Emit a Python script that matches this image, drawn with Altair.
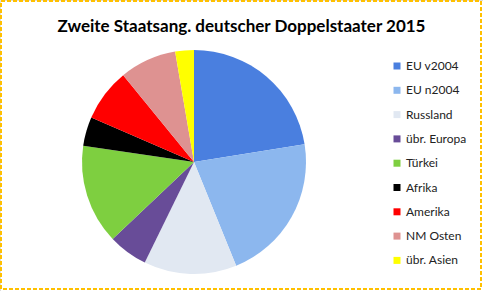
import altair as alt
import pandas as pd

categories = ["EU v2004", "EU n2004", "Russland", "übr. Europa", "Türkei",
              "Afrika", "Amerika", "NM Osten", "übr. Asien"]
values = [22.5, 21.4, 13.4, 5.7, 14.4, 4.2, 7.6, 8.2, 2.7]
colors = ["#4A7FDF", "#8CB7EE", "#E1E8F2", "#684C98", "#7ECF40",
          "#000000", "#FF0000", "#DE9291", "#FFFF00"]

df = pd.DataFrame({"Region": categories, "Anteil": values,
                   "idx": list(range(len(categories)))})

pie = alt.Chart(df).mark_arc(radius=112, stroke=None).encode(
    x=alt.value(194),
    y=alt.value(162),
    theta=alt.Theta("Anteil:Q", stack=True),
    order=alt.Order("idx:Q"),
    color=alt.Color(
        "Region:N",
        sort=categories,
        scale=alt.Scale(domain=categories, range=colors),
        legend=alt.Legend(
            title=None, orient="none", legendX=391, legendY=60,
            symbolType="square", symbolSize=49, symbolStrokeWidth=0,
            labelFontSize=12, labelFont="Lato", labelColor="#222222",
            labelOffset=3, rowPadding=12.3,
        ),
    ),
)

border = alt.Chart(df).mark_rect(
    fill=None, stroke="#FFC000", strokeWidth=2, strokeDash=[4, 2]
).encode(
    x=alt.value(1), x2=alt.value(481), y=alt.value(1), y2=alt.value(289)
)

chart = alt.layer(border, pie).properties(
    width=483, height=291, padding=0, autosize="none",
    title=alt.TitleParams(
        "Zweite Staatsang. deutscher Doppelstaater 2015",
        fontSize=17, font="Lato", fontWeight="bold", color="#000000",
        anchor="middle", offset=-36, frame="bounds",
    ),
).configure_view(stroke=None).configure(background="white")

chart.save("out.html", embed_options={"renderer": "svg", "actions": False})
